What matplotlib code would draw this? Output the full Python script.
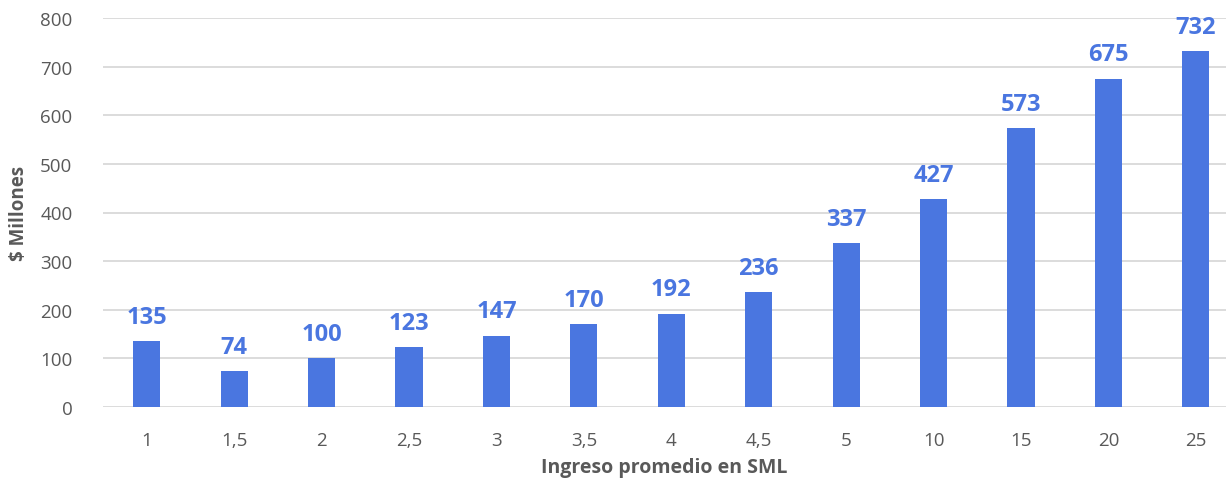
import matplotlib
matplotlib.use("Agg")
import matplotlib.pyplot as plt

categories = ["1", "1,5", "2", "2,5", "3", "3,5", "4", "4,5", "5", "10", "15", "20", "25"]
values = [135, 74, 100, 123, 147, 170, 192, 236, 337, 427, 573, 675, 732]

plt.rcParams['font.family'] = ['Open Sans', 'DejaVu Sans']
bar_color = "#4A76E0"
txt = "#595959"

W, H = 1226, 481
fig = plt.figure(figsize=(W/100, H/100), dpi=100)
ax = fig.add_axes([103/W, 1-408/H, (W-103)/W, (408-19)/H])

x = list(range(len(categories)))
ax.bar(x, values, width=0.31, color=bar_color, zorder=3)
for xi, v in zip(x, values):
    ax.annotate(str(v), (xi, v), xytext=(0, 9), textcoords="offset points",
                ha="center", va="bottom", fontsize=17, fontweight="bold", color=bar_color,
                annotation_clip=False)

ax.set_ylim(0, 800)
ax.set_xlim(-0.5, 12.345)
ax.set_yticks(range(0, 801, 100))
ax.set_xticks(x)
ax.set_xticklabels(categories)
ax.grid(axis="y", color="#D9D9D9", linewidth=1.3, zorder=0)
for s in ax.spines.values():
    s.set_visible(False)
ax.tick_params(axis="both", length=0, labelsize=13.5, colors=txt)
ax.tick_params(axis="y", pad=22)
ax.tick_params(axis="x", pad=17)
ax.set_ylabel("$ Millones", fontsize=13.5, fontweight="bold", color=txt, labelpad=8)
ax.set_xlabel("Ingreso promedio en SML", fontsize=14, fontweight="bold", color=txt, labelpad=6)

fig.savefig("out.png", dpi=100)
